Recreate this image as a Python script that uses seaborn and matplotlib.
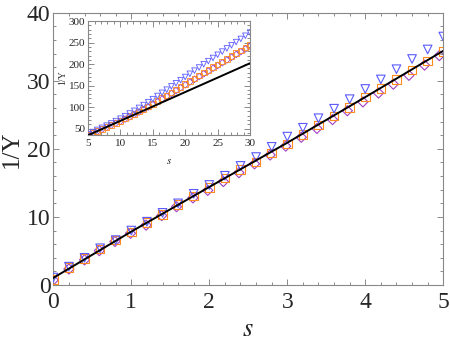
import numpy as np
import pandas as pd
import matplotlib
matplotlib.use("Agg")
import matplotlib.pyplot as plt
from matplotlib.ticker import MultipleLocator
import seaborn as sns

# main panel, s = 0 ... 5
s_main = [0.0, 0.2, 0.4, 0.6, 0.8, 1.0, 1.2, 1.4, 1.6, 1.8, 2.0, 2.2, 2.4,
          2.6, 2.8, 3.0, 3.2, 3.4, 3.6, 3.8, 4.0, 4.2, 4.4, 4.6, 4.8, 5.0]
tri_main = [1.1, 2.7, 4.0, 5.4, 6.6, 8.0, 9.3, 10.6, 12.0, 13.4, 14.7, 16.05, 17.5,
            18.8, 20.3, 21.8, 23.1, 24.5, 25.9, 27.3, 28.8, 30.2, 31.7, 33.2, 34.6, 36.5]
sq_main = [0.84, 2.6, 3.9, 5.3, 6.6, 7.8, 9.15, 10.4, 11.85, 13.1, 14.3, 15.7, 17.0,
           18.1, 19.4, 20.7, 22.1, 23.5, 24.8, 26.1, 27.6, 28.9, 30.2, 31.6, 32.9, 34.3]
s_dia = [0.0, 0.20, 0.40, 0.59, 0.79, 0.99, 1.19, 1.39, 1.58, 1.79, 1.98, 2.18, 2.38,
         2.58, 2.78, 2.98, 3.18, 3.38, 3.58, 3.77, 3.97, 4.17, 4.36, 4.56, 4.76, 4.95]
dia_main = [0.74, 2.35, 3.7, 5.05, 6.4, 7.6, 8.8, 10.2, 11.5, 12.8, 13.9, 15.2, 16.5,
            17.8, 19.1, 20.4, 21.7, 23.0, 24.3, 25.6, 26.9, 28.2, 29.5, 30.8, 32.3, 33.7]
line_s = [0, 1, 2, 3, 4, 5]
line_y = [1.05, 7.85, 14.4, 20.9, 27.6, 34.4]

# inset, s = 5 ... 30
s_in = np.linspace(5, 30, 36)
tri_in = [37.0, 41.9, 46.9, 51.7, 56.8, 61.9, 67.4, 73.0, 78.9, 85.1, 91.3, 98.1,
          104.7, 111.5, 118.5, 125.8, 133.2, 140.5, 148.1, 155.4, 162.7, 170.0, 177.4, 184.8,
          192.1, 199.6, 206.9, 214.3, 221.7, 229.1, 236.5, 243.8, 251.3, 258.6, 266.0, 273.4]
sq_in = [34.5, 39.3, 44.1, 48.8, 53.7, 58.4, 63.2, 68.0, 73.4, 78.7, 84.0, 89.8,
         95.6, 101.6, 107.5, 114.0, 120.5, 126.9, 133.7, 140.4, 147.2, 154.0, 160.5, 167.0,
         173.4, 180.0, 186.4, 192.9, 199.5, 206.0, 212.5, 218.9, 225.5, 232.0, 238.5, 245.0]
dia_in = [33.7, 38.4, 43.2, 47.8, 52.6, 57.3, 62.0, 66.7, 72.0, 77.3, 82.5, 88.3,
          94.0, 99.9, 105.8, 112.2, 118.6, 125.0, 131.7, 138.3, 145.0, 151.8, 158.2, 164.6,
          171.0, 177.5, 183.8, 190.3, 196.8, 203.2, 209.6, 216.0, 222.5, 228.9, 235.3, 241.8]
line_in_s = [5, 30]
line_in_y = [34.4, 202.0]

blue = "#5a5aff"
orange = "#ff8a1e"
purple = "#a040c0"

sns.set_style("ticks")
plt.rcParams["font.family"] = ["Liberation Serif", "DejaVu Serif"]
plt.rcParams["mathtext.fontset"] = "stix"

fig = plt.figure(figsize=(4.5, 3.43), dpi=100)
ax = fig.add_axes([0.1185, 0.169, 0.8665, 0.794])


def draw(ax, s_t, t, s_q, q, s_d, d, ls, ly, ms, lw):
    sns.scatterplot(x=s_d, y=d, marker="D", s=ms * 0.7, facecolor="none",
                    edgecolor=purple, linewidth=lw, ax=ax, zorder=3)
    sns.scatterplot(x=s_q, y=q, marker="s", s=ms, facecolor="none",
                    edgecolor=orange, linewidth=lw, ax=ax, zorder=3)
    sns.scatterplot(x=s_t, y=t, marker="v", s=ms, facecolor="none",
                    edgecolor=blue, linewidth=lw, ax=ax, zorder=3)
    sns.lineplot(x=ls, y=ly, color="black", lw=1.4, ax=ax, zorder=4)


def frame(ax, xmaj, xmin, ymaj, ymin, size, xpad):
    ax.xaxis.set_major_locator(MultipleLocator(xmaj))
    ax.xaxis.set_minor_locator(MultipleLocator(xmin))
    ax.yaxis.set_major_locator(MultipleLocator(ymaj))
    ax.yaxis.set_minor_locator(MultipleLocator(ymin))
    ax.tick_params(which="both", direction="in", top=True, right=True,
                   color="#777777", width=0.6, labelsize=size, pad=2)
    ax.tick_params(axis="x", which="major", pad=xpad)
    ax.tick_params(which="major", length=4)
    ax.tick_params(which="minor", length=2)
    for sp in ax.spines.values():
        sp.set_color("#888888")
        sp.set_linewidth(0.8)


draw(ax, s_main, tri_main, s_main, sq_main, s_dia, dia_main, line_s, line_y, 38, 0.8)
ax.set_xlim(0, 5)
ax.set_ylim(0, 40)
frame(ax, 1, 0.2, 10, 2, 17, 5)
ax.set_xlabel("$s$", fontsize=19, labelpad=4)
ax.set_ylabel("1/Y", fontsize=18, labelpad=3)

ins = fig.add_axes([0.1956, 0.6064, 0.36, 0.332])
draw(ins, s_in, tri_in, s_in, sq_in, s_in, dia_in, line_in_s, line_in_y, 16, 0.6)
ins.set_xlim(5, 30)
ins.set_ylim(35, 300)
frame(ins, 5, 1, 50, 10, 8, 3)
ins.set_xlabel("$s$", fontsize=8, labelpad=6)
ins.set_ylabel("1/Y", fontsize=7, labelpad=1)

fig.savefig("out.png", dpi=100)
